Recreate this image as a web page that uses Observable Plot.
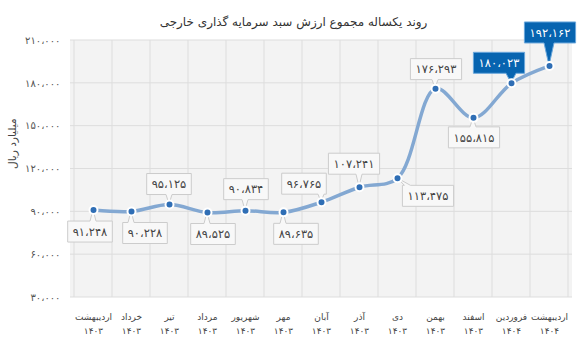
<!DOCTYPE html>
<html><head><meta charset="utf-8">
<script src="https://cdn.jsdelivr.net/npm/d3@7"></script>
<script src="https://cdn.jsdelivr.net/npm/@observablehq/plot@0.6"></script>
<style>body{margin:0;background:#fff;} svg{display:block;}</style>
</head><body><div id="chart"></div>
<script>
const months = ["اردیبهشت","خرداد","تیر","مرداد","شهریور","مهر","آبان","آذر","دی","بهمن","اسفند","فروردین","اردیبهشت"];
const years = ["۱۴۰۳","۱۴۰۳","۱۴۰۳","۱۴۰۳","۱۴۰۳","۱۴۰۳","۱۴۰۳","۱۴۰۳","۱۴۰۳","۱۴۰۳","۱۴۰۳","۱۴۰۴","۱۴۰۴"];
const values = [91248, 90228, 95125, 89525, 90834, 89635, 96765, 107241, 113475, 176293, 155815, 180023, 192162];
const yTicks = [30000, 60000, 90000, 120000, 150000, 180000, 210000];
const highlighted = [false,false,false,false,false,false,false,false,false,false,false,true,true];
// callout placement relative to its point (layout only)
const labelOffsets = [[-3,22],[14,22],[0,-20],[6,22],[1,-21],[13,22],[-17,-18],[-5,-23],[31,18],[1,-19],[1,20],[-12,-20],[1,-33]];
const title = "روند یکساله مجموع ارزش سبد سرمایه گذاری خارجی";
const yLabel = "میلیارد ریال";

const keys = months.map((m,i)=> m + "\n" + years[i]);
const data = values.map((v,i)=>({key: keys[i], value: v, hi: highlighted[i], off: labelOffsets[i]}));
const fa = n => d3.format(",")(n).replace(/\d/g, d=>"۰۱۲۳۴۵۶۷۸۹"[d]).replace(/,/g, "،");
const FONT = "DejaVu Sans, Noto Sans, sans-serif";

function background(index, scales, values, dim) {
  const g = d3.create("svg:g");
  const x = scales.x, y = scales.y;
  const bw = x.bandwidth ? x.bandwidth() : (x(keys[1]) - x(keys[0]));
  const L = dim.marginLeft, R = dim.width - dim.marginRight, T = dim.marginTop, B = dim.height - dim.marginBottom;
  g.append("rect").attr("x", L).attr("y", T).attr("width", R-L).attr("height", B-T).attr("fill", "#f3f3f3");
  for (const t of yTicks) g.append("line").attr("x1", L).attr("x2", R).attr("y1", y(t)).attr("y2", y(t)).attr("stroke", "#dddddd");
  keys.forEach((k,i)=>{
    const xx = x(k);
    g.append("line").attr("x1", xx).attr("x2", xx).attr("y1", T).attr("y2", B).attr("stroke", "#dddddd");
    if (i === keys.length-1) g.append("line").attr("x1", xx+bw).attr("x2", xx+bw).attr("y1", T).attr("y2", B).attr("stroke", "#dddddd");
  });
  return g.node();
}

function callouts(index, scales, values, dim) {
  const g = d3.create("svg:g");
  const x = scales.x, y = scales.y;
  const bw = x.bandwidth ? x.bandwidth() : (x(keys[1]) - x(keys[0]));
  data.forEach(d => {
    const px = x(d.key) + bw/2, py = y(d.value);
    const txt = fa(d.value);
    const w = txt.length * 6.6 + 5, h = 21;
    const cx = px + d.off[0], cy = py + d.off[1];
    const Lx = cx - w/2, Rx = cx + w/2, Ty = cy - h/2, By = cy + h/2;
    const half = d.hi ? 5 : 3;
    const bx = Math.max(Lx + half + 2, Math.min(Rx - half - 2, px));
    let p;
    if (py < cy) p = `M${Lx},${Ty}L${bx-half},${Ty}L${px},${py}L${bx+half},${Ty}L${Rx},${Ty}L${Rx},${By}L${Lx},${By}Z`;
    else p = `M${Lx},${Ty}L${Rx},${Ty}L${Rx},${By}L${bx+half},${By}L${px},${py}L${bx-half},${By}L${Lx},${By}Z`;
    g.append("path").attr("d", p)
      .attr("fill", d.hi ? "#0764b0" : "#f8f8f8")
      .attr("stroke", d.hi ? "#6aa7dc" : "#cccccc").attr("stroke-width", 1);
    g.append("text").attr("x", cx).attr("y", cy).attr("dy", "0.36em")
      .attr("text-anchor", "middle").attr("font-family", FONT).attr("font-size", 11.5)
      .attr("letter-spacing", 0.9)
      .attr("fill", d.hi ? "#ffffff" : "#444444").text(txt);
  });
  return g.node();
}

const chart = Plot.plot({
  width: 586, height: 353,
  marginLeft: 70, marginRight: 14, marginTop: 40, marginBottom: 56,
  style: {fontFamily: FONT, background: "#fff"},
  x: {type: "band", domain: keys, padding: 0, label: null},
  y: {domain: [30000, 210000], label: null},
  marks: [
    background,
    Plot.axisY({ticks: yTicks, tickFormat: fa, tickSize: 0, tickPadding: 10, fontSize: 10, fill: "#555", label: null}),
    Plot.axisX({tickSize: 0, tickPadding: 12, fontSize: 9, fill: "#444", lineHeight: 1.6, label: null}),
    Plot.line(data, {x: "key", y: "value", curve: "catmull-rom", stroke: "#83a8d2", strokeWidth: 3.5}),
    callouts,
    Plot.dot(data, {x: "key", y: "value", r: 4, fill: "#2f6eb5", stroke: "#ffffff", strokeWidth: 2}),
    Plot.text([title], {text: d=>d, frameAnchor: "top", dy: -23, dx: -28, fontSize: 12, fill: "#333"}),
    Plot.text([yLabel], {text: d=>d, frameAnchor: "left", rotate: -90, dx: -58, fontSize: 10.5, fill: "#444"})
  ]
});
document.getElementById("chart").append(chart);
</script></body></html>
